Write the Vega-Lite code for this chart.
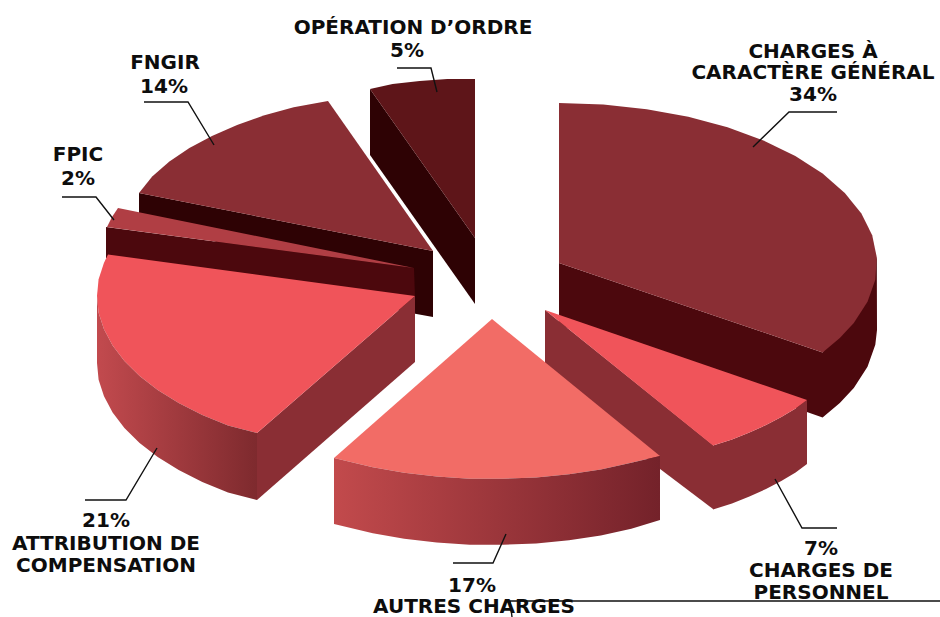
{"$schema":"https://vega.github.io/schema/vega-lite/v6.json","width":940,"height":617,"autosize":"none","padding":0,"background":"#ffffff","view":{"stroke":null},
"datasets":{
"outlines":[
{"shape":"5-cote","tone":"nuit","i":1,"x":370,"y":89},{"shape":"5-cote","tone":"nuit","i":2,"x":475,"y":238},{"shape":"5-cote","tone":"nuit","i":3,"x":475,"y":304},{"shape":"5-cote","tone":"nuit","i":4,"x":370,"y":155},
{"shape":"5-dessus","tone":"vin","i":1,"x":370,"y":89},{"shape":"5-dessus","tone":"vin","i":2,"x":392.6,"y":84},{"shape":"5-dessus","tone":"vin","i":3,"x":419.7,"y":81},{"shape":"5-dessus","tone":"vin","i":4,"x":447.3,"y":79},{"shape":"5-dessus","tone":"vin","i":5,"x":475,"y":79},{"shape":"5-dessus","tone":"vin","i":6,"x":475,"y":238},
{"shape":"14-cote","tone":"nuit","i":1,"x":139,"y":193},{"shape":"14-cote","tone":"nuit","i":2,"x":433,"y":251},{"shape":"14-cote","tone":"nuit","i":3,"x":433,"y":317},{"shape":"14-cote","tone":"nuit","i":4,"x":400,"y":311},{"shape":"14-cote","tone":"nuit","i":5,"x":139,"y":213},
{"shape":"14-dessus","tone":"brique","i":1,"x":328,"y":101},{"shape":"14-dessus","tone":"brique","i":2,"x":293.7,"y":107.2},{"shape":"14-dessus","tone":"brique","i":3,"x":264.5,"y":115.3},{"shape":"14-dessus","tone":"brique","i":4,"x":237.1,"y":124.9},{"shape":"14-dessus","tone":"brique","i":5,"x":212,"y":136},{"shape":"14-dessus","tone":"brique","i":6,"x":189.4,"y":148.1},{"shape":"14-dessus","tone":"brique","i":7,"x":169.4,"y":161.6},{"shape":"14-dessus","tone":"brique","i":8,"x":152.2,"y":176.5},{"shape":"14-dessus","tone":"brique","i":9,"x":139,"y":193},{"shape":"14-dessus","tone":"brique","i":10,"x":433,"y":251},
{"shape":"34-cote","tone":"sombre","i":1,"x":559,"y":263},{"shape":"34-cote","tone":"sombre","i":2,"x":822.6,"y":352.4},{"shape":"34-cote","tone":"sombre","i":3,"x":876.8,"y":257.4},{"shape":"34-cote","tone":"sombre","i":4,"x":877,"y":330},{"shape":"34-cote","tone":"sombre","i":5,"x":875.3,"y":344.8},{"shape":"34-cote","tone":"sombre","i":6,"x":867.5,"y":366.7},{"shape":"34-cote","tone":"sombre","i":7,"x":853.8,"y":388},{"shape":"34-cote","tone":"sombre","i":8,"x":839.8,"y":403},{"shape":"34-cote","tone":"sombre","i":9,"x":822.6,"y":417.4},{"shape":"34-cote","tone":"sombre","i":10,"x":559,"y":325},
{"shape":"34-dessus","tone":"brique","i":1,"x":559,"y":103},{"shape":"34-dessus","tone":"brique","i":2,"x":603.3,"y":104.6},{"shape":"34-dessus","tone":"brique","i":3,"x":646.7,"y":109.2},{"shape":"34-dessus","tone":"brique","i":4,"x":688.3,"y":116.8},{"shape":"34-dessus","tone":"brique","i":5,"x":727.5,"y":127.3},{"shape":"34-dessus","tone":"brique","i":6,"x":763.4,"y":140.4},{"shape":"34-dessus","tone":"brique","i":7,"x":795.3,"y":155.9},{"shape":"34-dessus","tone":"brique","i":8,"x":822.6,"y":173.6},{"shape":"34-dessus","tone":"brique","i":9,"x":844.8,"y":192.9},{"shape":"34-dessus","tone":"brique","i":10,"x":861.4,"y":213.6},{"shape":"34-dessus","tone":"brique","i":11,"x":872.2,"y":235.2},{"shape":"34-dessus","tone":"brique","i":12,"x":876.8,"y":257.4},{"shape":"34-dessus","tone":"brique","i":13,"x":875.3,"y":279.8},{"shape":"34-dessus","tone":"brique","i":14,"x":867.5,"y":301.7},{"shape":"34-dessus","tone":"brique","i":15,"x":853.8,"y":323},{"shape":"34-dessus","tone":"brique","i":16,"x":839.8,"y":338},{"shape":"34-dessus","tone":"brique","i":17,"x":822.6,"y":352.4},{"shape":"34-dessus","tone":"brique","i":18,"x":559,"y":263},
{"shape":"7-coupe","tone":"brique","i":1,"x":545,"y":310},{"shape":"7-coupe","tone":"brique","i":2,"x":713,"y":445},{"shape":"7-coupe","tone":"brique","i":3,"x":713,"y":509},{"shape":"7-coupe","tone":"brique","i":4,"x":545,"y":382},
{"shape":"7-cote","tone":"brique","i":1,"x":713,"y":445.5},{"shape":"7-cote","tone":"brique","i":2,"x":732,"y":439.4},{"shape":"7-cote","tone":"brique","i":3,"x":749.4,"y":432.6},{"shape":"7-cote","tone":"brique","i":4,"x":766,"y":425},{"shape":"7-cote","tone":"brique","i":5,"x":781.3,"y":417},{"shape":"7-cote","tone":"brique","i":6,"x":795.6,"y":408.6},{"shape":"7-cote","tone":"brique","i":7,"x":807,"y":400},{"shape":"7-cote","tone":"brique","i":8,"x":807,"y":464},{"shape":"7-cote","tone":"brique","i":9,"x":795.6,"y":472.6},{"shape":"7-cote","tone":"brique","i":10,"x":781.3,"y":481},{"shape":"7-cote","tone":"brique","i":11,"x":766,"y":489},{"shape":"7-cote","tone":"brique","i":12,"x":749.4,"y":496.6},{"shape":"7-cote","tone":"brique","i":13,"x":732,"y":503.4},{"shape":"7-cote","tone":"brique","i":14,"x":713,"y":509.5},
{"shape":"7-dessus","tone":"rouge","i":1,"x":545,"y":310},{"shape":"7-dessus","tone":"rouge","i":2,"x":807,"y":400},{"shape":"7-dessus","tone":"rouge","i":3,"x":795.6,"y":408.6},{"shape":"7-dessus","tone":"rouge","i":4,"x":781.3,"y":417},{"shape":"7-dessus","tone":"rouge","i":5,"x":766,"y":425},{"shape":"7-dessus","tone":"rouge","i":6,"x":749.4,"y":432.6},{"shape":"7-dessus","tone":"rouge","i":7,"x":732,"y":439.4},{"shape":"7-dessus","tone":"rouge","i":8,"x":713,"y":445.5},
{"shape":"2-cote","tone":"sombre","i":1,"x":106,"y":227},{"shape":"2-cote","tone":"sombre","i":2,"x":414,"y":268},{"shape":"2-cote","tone":"sombre","i":3,"x":415,"y":297},{"shape":"2-cote","tone":"sombre","i":4,"x":106,"y":258},
{"shape":"2-dessus","tone":"rose","i":1,"x":118,"y":208},{"shape":"2-dessus","tone":"rose","i":2,"x":112,"y":217},{"shape":"2-dessus","tone":"rose","i":3,"x":107,"y":227},{"shape":"2-dessus","tone":"rose","i":4,"x":414,"y":268},
{"shape":"21-coupe","tone":"brique","i":1,"x":257,"y":433},{"shape":"21-coupe","tone":"brique","i":2,"x":415,"y":296},{"shape":"21-coupe","tone":"brique","i":3,"x":415,"y":362},{"shape":"21-coupe","tone":"brique","i":4,"x":257,"y":500},
{"shape":"21-dessus","tone":"rouge","i":1,"x":415,"y":296},{"shape":"21-dessus","tone":"rouge","i":2,"x":108,"y":254.6},{"shape":"21-dessus","tone":"rouge","i":3,"x":104,"y":262.7},{"shape":"21-dessus","tone":"rouge","i":4,"x":98.6,"y":279.2},{"shape":"21-dessus","tone":"rouge","i":5,"x":97,"y":296},{"shape":"21-dessus","tone":"rouge","i":6,"x":98.6,"y":312.8},{"shape":"21-dessus","tone":"rouge","i":7,"x":104,"y":329.3},{"shape":"21-dessus","tone":"rouge","i":8,"x":112.6,"y":345.4},{"shape":"21-dessus","tone":"rouge","i":9,"x":124.4,"y":361.1},{"shape":"21-dessus","tone":"rouge","i":10,"x":139.6,"y":376},{"shape":"21-dessus","tone":"rouge","i":11,"x":157.7,"y":390},{"shape":"21-dessus","tone":"rouge","i":12,"x":178.7,"y":403},{"shape":"21-dessus","tone":"rouge","i":13,"x":202.3,"y":414.9},{"shape":"21-dessus","tone":"rouge","i":14,"x":228,"y":425.4},{"shape":"21-dessus","tone":"rouge","i":15,"x":257,"y":433},
{"shape":"17-dessus","tone":"saumon","i":1,"x":492,"y":319},{"shape":"17-dessus","tone":"saumon","i":2,"x":334,"y":458},{"shape":"17-dessus","tone":"saumon","i":3,"x":372.8,"y":467.3},{"shape":"17-dessus","tone":"saumon","i":4,"x":404.2,"y":472.8},{"shape":"17-dessus","tone":"saumon","i":5,"x":436.7,"y":476.6},{"shape":"17-dessus","tone":"saumon","i":6,"x":469.7,"y":478.7},{"shape":"17-dessus","tone":"saumon","i":7,"x":503,"y":478.8},{"shape":"17-dessus","tone":"saumon","i":8,"x":536.2,"y":477.4},{"shape":"17-dessus","tone":"saumon","i":9,"x":569,"y":474.2},{"shape":"17-dessus","tone":"saumon","i":10,"x":600.8,"y":469.4},{"shape":"17-dessus","tone":"saumon","i":11,"x":631.3,"y":462.8},{"shape":"17-dessus","tone":"saumon","i":12,"x":660,"y":456}
],
"fronts":[
{"shape":"21-front","i":1,"x":97,"y":296},{"shape":"21-front","i":2,"x":98.6,"y":312.8},{"shape":"21-front","i":3,"x":104,"y":329.3},{"shape":"21-front","i":4,"x":112.6,"y":345.4},{"shape":"21-front","i":5,"x":124.4,"y":361.1},{"shape":"21-front","i":6,"x":139.6,"y":376},{"shape":"21-front","i":7,"x":157.7,"y":390},{"shape":"21-front","i":8,"x":178.7,"y":403},{"shape":"21-front","i":9,"x":202.3,"y":414.9},{"shape":"21-front","i":10,"x":228,"y":425.4},{"shape":"21-front","i":11,"x":257,"y":433},{"shape":"21-front","i":12,"x":257,"y":500},{"shape":"21-front","i":13,"x":228,"y":492.4},{"shape":"21-front","i":14,"x":202.3,"y":481.9},{"shape":"21-front","i":15,"x":178.7,"y":470},{"shape":"21-front","i":16,"x":157.7,"y":457},{"shape":"21-front","i":17,"x":139.6,"y":443},{"shape":"21-front","i":18,"x":124.4,"y":428.1},{"shape":"21-front","i":19,"x":112.6,"y":412.4},{"shape":"21-front","i":20,"x":104,"y":396.3},{"shape":"21-front","i":21,"x":98.6,"y":379.8},{"shape":"21-front","i":22,"x":97,"y":363},
{"shape":"17-front","i":1,"x":334,"y":458},{"shape":"17-front","i":2,"x":372.8,"y":467.3},{"shape":"17-front","i":3,"x":404.2,"y":472.8},{"shape":"17-front","i":4,"x":436.7,"y":476.6},{"shape":"17-front","i":5,"x":469.7,"y":478.7},{"shape":"17-front","i":6,"x":503,"y":478.8},{"shape":"17-front","i":7,"x":536.2,"y":477.4},{"shape":"17-front","i":8,"x":569,"y":474.2},{"shape":"17-front","i":9,"x":600.8,"y":469.4},{"shape":"17-front","i":10,"x":631.3,"y":462.8},{"shape":"17-front","i":11,"x":660,"y":456},{"shape":"17-front","i":12,"x":660,"y":520},{"shape":"17-front","i":13,"x":631.3,"y":528.8},{"shape":"17-front","i":14,"x":600.8,"y":535.4},{"shape":"17-front","i":15,"x":569,"y":540.2},{"shape":"17-front","i":16,"x":536.2,"y":543.4},{"shape":"17-front","i":17,"x":503,"y":544.8},{"shape":"17-front","i":18,"x":469.7,"y":544.7},{"shape":"17-front","i":19,"x":436.7,"y":542.6},{"shape":"17-front","i":20,"x":404.2,"y":538.8},{"shape":"17-front","i":21,"x":372.8,"y":533.3},{"shape":"17-front","i":22,"x":334,"y":524}
],
"leaders":[
{"k":"34","i":1,"x":837,"y":112},{"k":"34","i":2,"x":789,"y":112},{"k":"34","i":3,"x":753,"y":147},
{"k":"5","i":1,"x":397,"y":68},{"k":"5","i":2,"x":431,"y":68},{"k":"5","i":3,"x":437,"y":92},
{"k":"14","i":1,"x":144,"y":102},{"k":"14","i":2,"x":188,"y":102},{"k":"14","i":3,"x":214,"y":145},
{"k":"2","i":1,"x":62,"y":197},{"k":"2","i":2,"x":96,"y":197},{"k":"2","i":3,"x":114,"y":220},
{"k":"21","i":1,"x":85,"y":500},{"k":"21","i":2,"x":126,"y":500},{"k":"21","i":3,"x":157,"y":448},
{"k":"7","i":1,"x":775,"y":479},{"k":"7","i":2,"x":802,"y":528},{"k":"7","i":3,"x":837,"y":528},
{"k":"17","i":1,"x":506,"y":534},{"k":"17","i":2,"x":493,"y":563},{"k":"17","i":3,"x":453,"y":563},
{"k":"bas","i":1,"x":512,"y":617},{"k":"bas","i":2,"x":510,"y":601},{"k":"bas","i":3,"x":940,"y":601}
],
"labels":[
{"t":"OPÉRATION D’ORDRE","x":413,"y":28},{"t":"5%","x":407,"y":51},
{"t":"FNGIR","x":165,"y":63},{"t":"14%","x":164,"y":87},
{"t":"FPIC","x":78,"y":155},{"t":"2%","x":78,"y":179},
{"t":"CHARGES À","x":813,"y":52},{"t":"CARACTÈRE GÉNÉRAL","x":813,"y":73},{"t":"34%","x":813,"y":95},
{"t":"21%","x":106,"y":521},{"t":"ATTRIBUTION DE","x":106,"y":544},{"t":"COMPENSATION","x":106,"y":566},
{"t":"17%","x":472,"y":586},{"t":"AUTRES CHARGES","x":474,"y":607},
{"t":"7%","x":821,"y":549},{"t":"CHARGES DE","x":821,"y":571},{"t":"PERSONNEL","x":821,"y":593}
]},
"encoding":{
"x":{"field":"x","type":"quantitative","axis":null,"scale":{"domain":[0,940],"nice":false,"zero":false}},
"y":{"field":"y","type":"quantitative","axis":null,"scale":{"domain":[617,0],"nice":false,"zero":false}}
},
"layer":[
{"data":{"name":"outlines"},"mark":{"type":"line","strokeWidth":0},"encoding":{"order":{"field":"i","type":"quantitative"},"detail":{"field":"shape"},"fill":{"field":"tone","type":"nominal","legend":null,"scale":{"domain":["nuit","vin","brique","sombre","rouge","rose","saumon"],"range":["#2e0204","#5e1519","#8a2e34","#4c080d","#f0545a","#b03e44","#f26c66"]}}}},
{"data":{"name":"fronts"},"transform":[{"filter":"datum.shape==='21-front'"}],"mark":{"type":"line","strokeWidth":0,"fill":{"gradient":"linear","x1":0,"y1":0,"x2":1,"y2":0,"stops":[{"offset":0,"color":"#c24a4e"},{"offset":1,"color":"#7e2a2e"}]}},"encoding":{"order":{"field":"i","type":"quantitative"}}},
{"data":{"name":"fronts"},"transform":[{"filter":"datum.shape==='17-front'"}],"mark":{"type":"line","strokeWidth":0,"fill":{"gradient":"linear","x1":0,"y1":0,"x2":1,"y2":0,"stops":[{"offset":0,"color":"#c24a4c"},{"offset":1,"color":"#74222a"}]}},"encoding":{"order":{"field":"i","type":"quantitative"}}},
{"data":{"name":"leaders"},"mark":{"type":"line","color":"#111111","strokeWidth":1.4},"encoding":{"order":{"field":"i","type":"quantitative"},"detail":{"field":"k"}}},
{"data":{"name":"labels"},"mark":{"type":"text","font":"DejaVu Sans","fontWeight":"bold","fontSize":20,"color":"#0d0d0d","align":"center","baseline":"middle"},"encoding":{"text":{"field":"t"}}}
]}
